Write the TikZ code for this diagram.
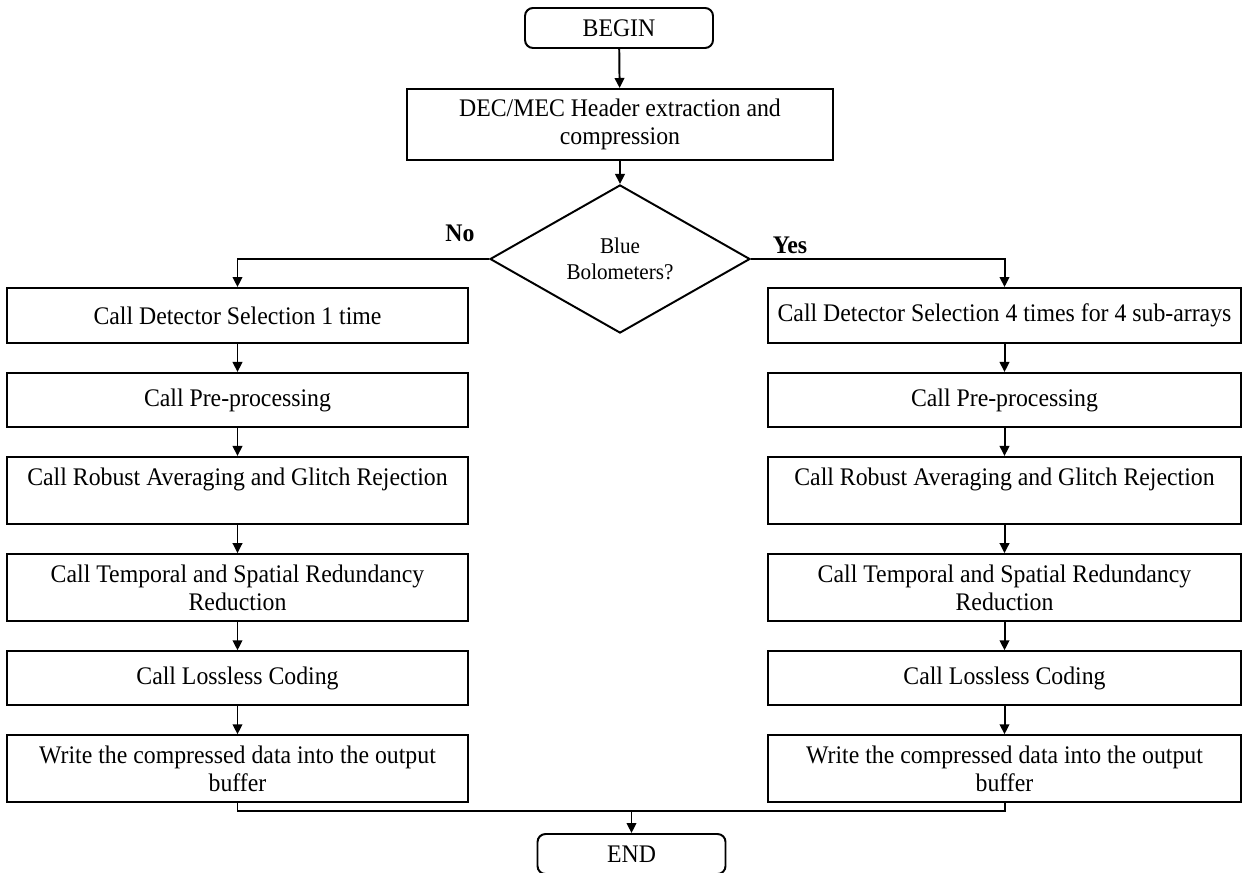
\documentclass[tikz,border=0pt]{standalone}
\usepackage{fontspec}
\setmainfont{Liberation Serif}[FakeStretch=0.94]
\usepackage{xcolor}
\usetikzlibrary{shapes.geometric, arrows.meta, positioning}

\begin{document}
\begin{tikzpicture}[
  node distance=0.7cm,
  line width=1.4pt,
  box/.style={rectangle, draw, align=center, inner xsep=2pt, minimum height=1.35cm, font=\fontsize{18}{20}\selectfont},
  tall/.style={box, minimum height=1.68cm},
  lbox/.style={minimum width=11.525cm},
  rbox/.style={minimum width=11.825cm},
  term/.style={rectangle, rounded corners=0.2cm, draw, minimum width=4.7cm, minimum height=1cm, font=\fontsize{18}{20}\selectfont},
  decision/.style={diamond, draw, align=center, inner sep=0pt, minimum width=6.5cm, minimum height=3.325cm, font=\fontsize{16}{18}\selectfont},
  lbl/.style={font=\fontsize{18}{20}\selectfont\bfseries},
  arrow/.style={-{Triangle[length=0.25cm, width=0.24cm]}}
]
  \useasboundingbox (0,0) rectangle (31.1,-21.8);

  % top part
  \node[term] (begin) at (15.475,-0.7) {BEGIN};
  \node[box, minimum width=10.65cm, minimum height=1.775cm] (hdr) at (15.5,-3.1125) {DEC/MEC Header extraction and\\compression};
  \node[decision] (blue) at (15.5,-6.475) {Blue\\Bolometers?};
  \node[lbl] (no) at (11.5,-5.825) {No};
  \node[lbl] (yes) at (19.75,-6.125) {Yes};

  % red bolometers
  \node[box, lbox, minimum height=1.375cm] (l1) at (5.9375,-7.8875) {Call Detector Selection 1 time};
  \node[box, lbox, below=of l1] (l2) {Call Pre-processing};
  \node[tall, lbox, below=of l2] (l3) {Call Robust Averaging and Glitch Rejection\\~};
  \node[tall, lbox, below=of l3] (l4) {Call Temporal and Spatial Redundancy\\Reduction};
  \node[box, lbox, below=of l4] (l5) {Call Lossless Coding};
  \node[tall, lbox, below=of l5] (l6) {Write the compressed data into the output\\buffer};

  % blue bolometers
  \node[box, rbox, minimum height=1.375cm] (r1) at (25.1125,-7.8875) {Call Detector Selection 4 times for 4 sub-arrays};
  \node[box, rbox, below=of r1] (r2) {Call Pre-processing};
  \node[tall, rbox, below=of r2] (r3) {Call Robust Averaging and Glitch Rejection\\~};
  \node[tall, rbox, below=of r3] (r4) {Call Temporal and Spatial Redundancy\\Reduction};
  \node[box, rbox, below=of r4] (r5) {Call Lossless Coding};
  \node[tall, rbox, below=of r5] (r6) {Write the compressed data into the output\\buffer};

  \node[term] (end) at (15.7875,-21.35) {END};
  \coordinate[above=0.55cm of end.north] (merge);

  \draw[arrow] (begin) -- (hdr);
  \draw[arrow] (hdr) -- (blue);
  \draw[arrow] (blue.west) -| (l1.north);
  \draw[arrow] (blue.east) -| (r1.north);
  \draw[arrow] (l1) -- (l2);
  \draw[arrow] (l2) -- (l3);
  \draw[arrow] (l3) -- (l4);
  \draw[arrow] (l4) -- (l5);
  \draw[arrow] (l5) -- (l6);
  \draw[arrow] (r1) -- (r2);
  \draw[arrow] (r2) -- (r3);
  \draw[arrow] (r3) -- (r4);
  \draw[arrow] (r4) -- (r5);
  \draw[arrow] (r5) -- (r6);
  \draw (l6.south) |- (merge) -| (r6.south);
  \draw[arrow] (merge) -- (end);
\end{tikzpicture}
\end{document}
